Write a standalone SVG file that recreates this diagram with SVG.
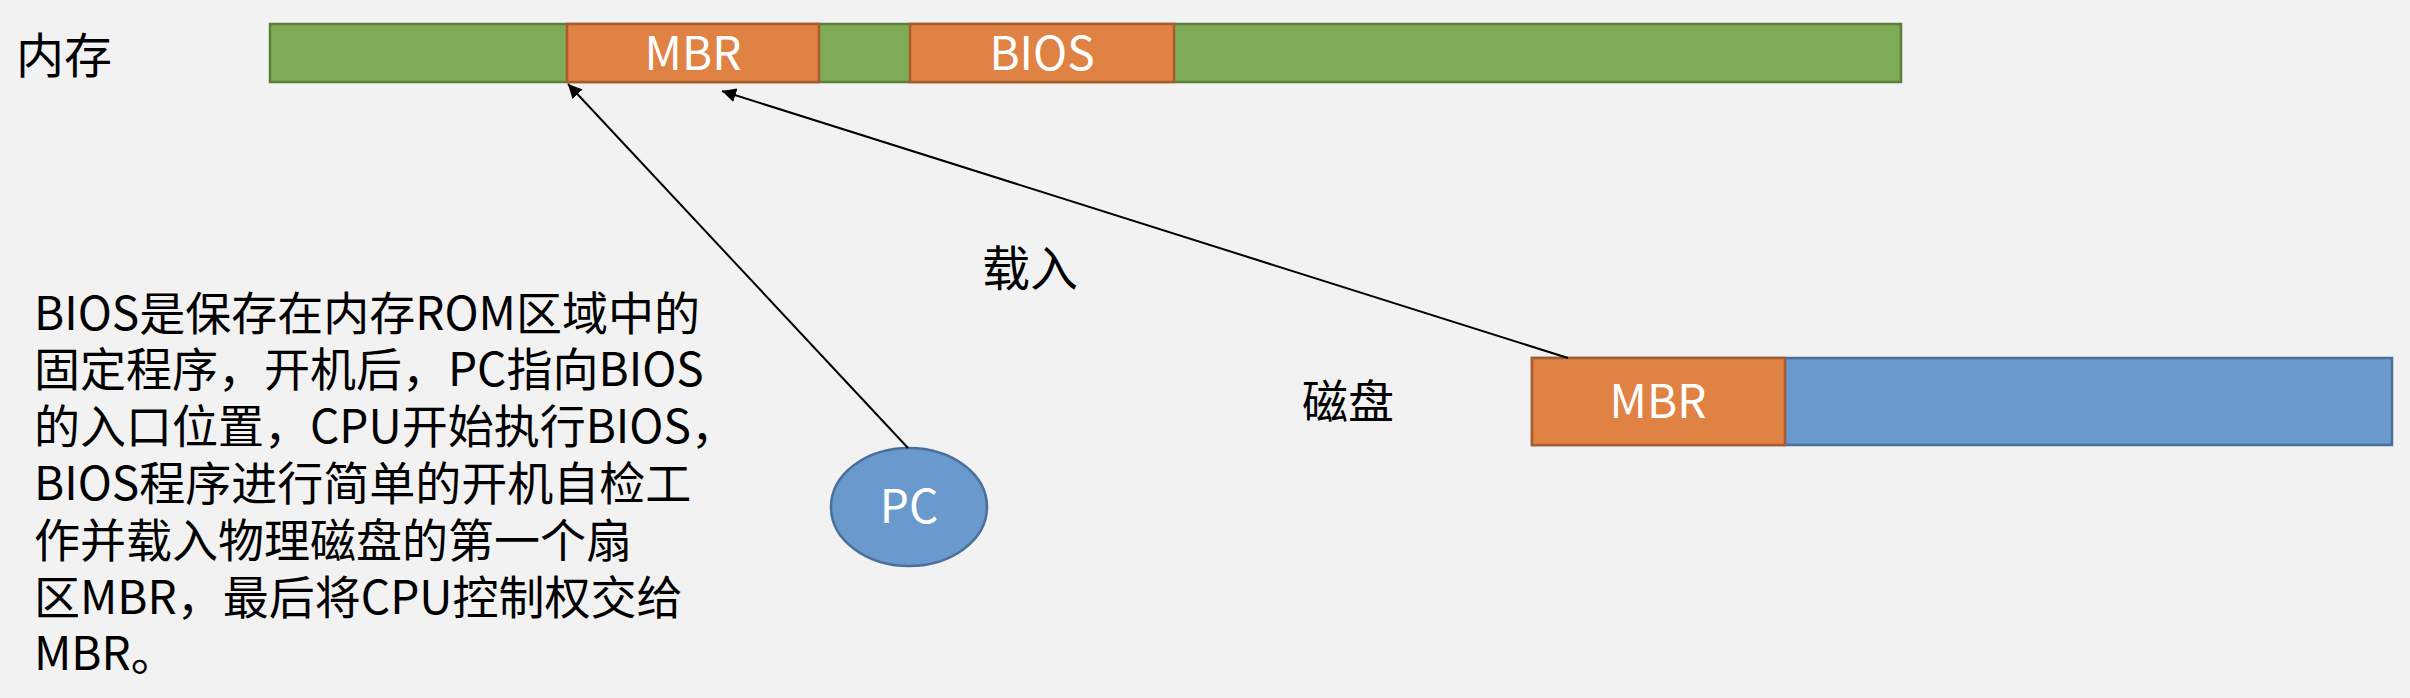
<svg xmlns="http://www.w3.org/2000/svg" width="2410" height="698" viewBox="0 0 2410 698">
<style>
.t{font-family:"Noto Sans CJK SC","Noto Sans",sans-serif;fill:#000}
.w{font-family:"Noto Sans CJK SC","Noto Sans",sans-serif;fill:#fff;font-size:46px;text-anchor:middle}
.g{fill:#7fab56;stroke:#5c7f3c;stroke-width:2.5}
.o{fill:#e08244;stroke:#a95c2b;stroke-width:2.5}
.b{fill:#6a99cd;stroke:#4b6f99;stroke-width:2.5}
.c{stroke:#000;stroke-width:2;fill:none;marker-end:url(#ah)}
</style>
<defs>
<marker id="ah" viewBox="0 0 10 10" refX="10" refY="5" markerWidth="7" markerHeight="7" orient="auto" markerUnits="strokeWidth">
<path d="M0,0 L10,5 L0,10 z" fill="#000"/>
</marker>
</defs>
<rect width="2410" height="698" fill="#f2f2f2"/>
<g id="memory-label"><text class="t" x="16" y="73" font-size="48">内存</text></g>
<g id="memory">
<rect class="g" x="270" y="24" width="1631" height="58"/>
<rect class="o" x="567" y="24" width="252" height="58"/>
<rect class="o" x="910" y="24" width="264" height="58"/>
<text class="w" x="693" y="70">MBR</text>
<text class="w" x="1042" y="70">BIOS</text>
</g>
<g id="disk-label"><text class="t" x="1302" y="418" font-size="46">磁盘</text></g>
<g id="disk">
<rect class="b" x="1532" y="358" width="860" height="87"/>
<rect class="o" x="1532" y="358" width="253" height="87"/>
<text class="w" x="1658" y="418">MBR</text>
</g>
<g id="load-label"><text class="t" x="982" y="286" font-size="48">载入</text></g>
<g id="pc">
<ellipse class="b" cx="909" cy="507" rx="78" ry="59"/>
<text class="w" x="909" y="523">PC</text>
</g>
<g id="connectors">
<line class="c" x1="908" y1="448" x2="568" y2="84"/>
<line class="c" x1="1568" y1="358" x2="722" y2="91"/>
</g>
<g id="description">
<text class="t" font-size="46">
<tspan x="34" y="330">BIOS是保存在内存ROM区域中的</tspan>
<tspan x="34" y="386">固定程序，开机后，PC指向BIOS</tspan>
<tspan x="34" y="443">的入口位置，CPU开始执行BIOS，</tspan>
<tspan x="34" y="500">BIOS程序进行简单的开机自检工</tspan>
<tspan x="34" y="557">作并载入物理磁盘的第一个扇</tspan>
<tspan x="34" y="614">区MBR，最后将CPU控制权交给</tspan>
<tspan x="34" y="670">MBR。</tspan>
</text>
</g>
</svg>
